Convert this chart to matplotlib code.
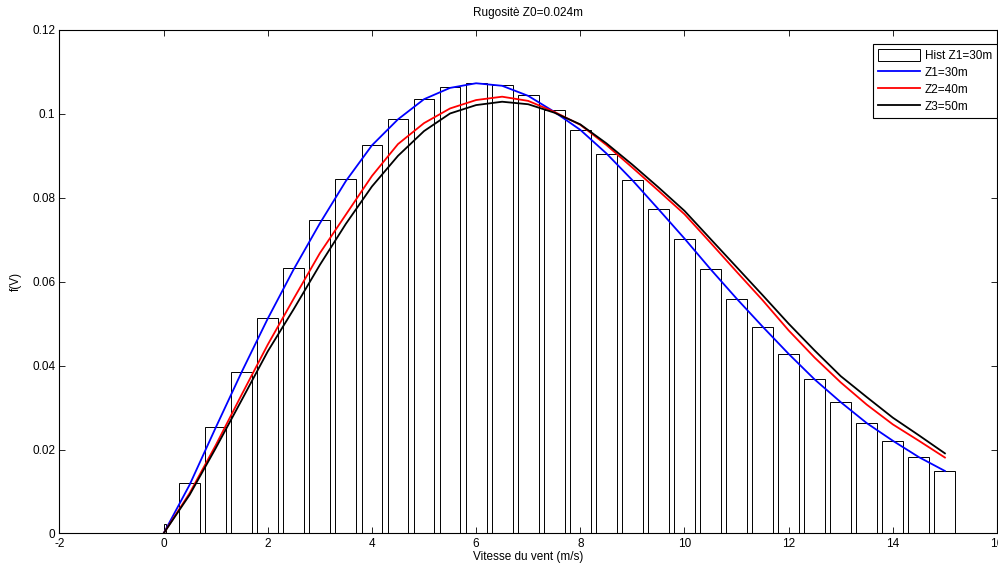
import matplotlib.pyplot as plt
from matplotlib.ticker import FuncFormatter

plt.rcParams['font.family'] = ['Liberation Sans', 'DejaVu Sans']
plt.rcParams['axes.unicode_minus'] = False

# vitesse du vent (m/s), pas de 0.5
v = [0, 0.5, 1, 1.5, 2, 2.5, 3, 3.5, 4, 4.5, 5, 5.5, 6, 6.5, 7, 7.5,
     8, 8.5, 9, 9.5, 10, 10.5, 11, 11.5, 12, 12.5, 13, 13.5, 14, 14.5, 15]

# histogramme Z1=30m
hist_z1 = [0.0022, 0.0120, 0.0253, 0.0385, 0.0514, 0.0632, 0.0748, 0.0845,
           0.0925, 0.0989, 0.1036, 0.1063, 0.1074, 0.1068, 0.1046, 0.1009,
           0.0962, 0.0905, 0.0842, 0.0773, 0.0703, 0.0630, 0.0560, 0.0493,
           0.0428, 0.0367, 0.0313, 0.0263, 0.0221, 0.0182, 0.0148]

f_z1 = [0, 0.0116, 0.0252, 0.0385, 0.0512, 0.0630, 0.0739, 0.0840,
        0.0925, 0.0987, 0.1035, 0.1062, 0.1073, 0.1067, 0.1043, 0.1005,
        0.0962, 0.0906, 0.0842, 0.0773, 0.0703, 0.0630, 0.0560, 0.0493,
        0.0428, 0.0367, 0.0313, 0.0263, 0.0221, 0.0182, 0.0149]

f_z2 = [0, 0.0096, 0.0210, 0.0331, 0.0450, 0.0560, 0.0668, 0.0760,
        0.0852, 0.0928, 0.0978, 0.1013, 0.1033, 0.1041, 0.1031, 0.1005,
        0.0974, 0.0926, 0.0872, 0.0817, 0.0761, 0.0693, 0.0624, 0.0556,
        0.0484, 0.0419, 0.0360, 0.0307, 0.0260, 0.0221, 0.0181]

f_z3 = [0, 0.0092, 0.0203, 0.0318, 0.0434, 0.0535, 0.0640, 0.0738,
        0.0827, 0.0900, 0.0959, 0.1001, 0.1021, 0.1029, 0.1023, 0.1003,
        0.0975, 0.0930, 0.0879, 0.0825, 0.0769, 0.0702, 0.0635, 0.0568,
        0.0500, 0.0436, 0.0375, 0.0325, 0.0276, 0.0234, 0.0191]

fig = plt.figure(figsize=(9.98, 5.71), dpi=100)
ax = fig.add_axes([0.0595, 0.0657, 0.9395, 0.8818])

# barres: la premiere est etroite (commence a 0)
lefts = [x - 0.2 for x in v]
widths = [0.4] * len(v)
lefts[0] = 0.0
widths[0] = 0.05
bars = ax.bar(lefts, hist_z1, width=widths, align='edge', facecolor='white',
              edgecolor='black', linewidth=0.7, label='Hist Z1=30m', zorder=1)

l1, = ax.plot(v, f_z1, color='#0000ff', lw=1.3, label='Z1=30m', zorder=3)
l2, = ax.plot(v, f_z2, color='#ff0000', lw=1.3, label='Z2=40m', zorder=3)
l3, = ax.plot(v, f_z3, color='black', lw=1.3, label='Z3=50m', zorder=3)

ax.set_xlim(-2, 16)
ax.set_ylim(0, 0.12)
ax.set_xticks(range(-2, 17, 2))
ax.set_yticks([0, 0.02, 0.04, 0.06, 0.08, 0.1, 0.12])
ax.yaxis.set_major_formatter(FuncFormatter(lambda y, p: '%g' % y))
ax.tick_params(direction='in', top=True, right=True, length=4,
               width=0.6, labelsize=8.5, pad=3)
for s in ax.spines.values():
    s.set_linewidth(0.8)

ax.set_title('Rugositè Z0=0.024m', fontsize=8.5, pad=10)
ax.set_xlabel('Vitesse du vent (m/s)', fontsize=8.5, labelpad=1)
ax.set_ylabel('f(V)', fontsize=8.5, labelpad=7)

leg = ax.legend([bars, l1, l2, l3],
                ['Hist Z1=30m', 'Z1=30m', 'Z2=40m', 'Z3=50m'],
                loc='upper right', bbox_to_anchor=(1.0, 0.972),
                borderaxespad=0, fontsize=8.5, fancybox=False,
                framealpha=1, edgecolor='black',
                handlelength=3.6, handleheight=1.2, handletextpad=0.4,
                borderpad=0.4, labelspacing=0.35)
leg.get_frame().set_linewidth(0.8)

fig.savefig('out.png', dpi=100)
